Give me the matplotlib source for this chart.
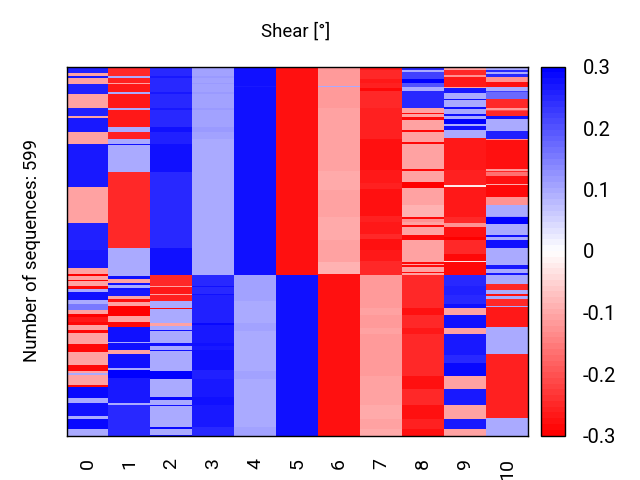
import numpy as np
import matplotlib
matplotlib.use('Agg')
import matplotlib.pyplot as plt

plt.rcParams['font.family'] = ['Roboto', 'DejaVu Sans']

N_ROWS = 599
LR, LB = -0.11, 0.10  # pale red / pale blue levels

c0_v = [.26,LR,.27,LR,.26,LR,.26,LR,.27,LR,.27,LR,.26,
        .27,LR,-.3,LR,-.3,LR,-.29,LB,.28,LB,.15,LR,-.3,-.27,-.29,LR,-.29,LR,-.29,LR,-.29,LR,LB,LR,-.29,.29,LB,.28,LB,.29,LB]
c0_n = [10,5,3,10,16,23,13,3,24,19,70,58,44,
        29,10,3,6,3,7,5,5,13,6,10,6,5,8,5,8,5,19,13,21,10,3,3,16,3,18,8,21,6,16,7]
c1_v = [-.25,LB,-.26,LR,-.27,LB,-.27,LB,-.27,LB,-.26,LB,.28,LB,-.25,LB,
        LB,.28,LR,.28,LB,.28,.27,LR,-.28,LR,-.3,LR,-.29,.28,LB,.28,LR,.28,LB,.3,.27,LB,.25]
c1_n = [15,3,8,2,13,3,24,3,28,8,10,8,2,45,122,5,
        41,5,6,3,5,3,10,5,6,6,16,10,8,24,2,11,6,24,2,13,42,3,48]
c2_v = [.25,.27,.25,.27,.25,.27,.25,.28,.26,.28,.25,.28,
        .28,-.25,LR,-.27,LR,-.26,LB,-.29,LB,LR,LB,.28,LB,.28,LB,.28,LB,.3,LB,.29,LB,.28,LB,.29,LB,.28]
c2_n = [15,3,23,3,24,3,28,8,19,46,122,5,
        39,18,2,11,2,10,11,2,23,5,6,2,19,5,6,2,32,13,29,5,8,2,34,3,10,1]
c3_v = [.11,.12,.11,.12,.11,.12,.105,.12,.105,.115,.11,.1,.1,
        .1,.25,.28,.25,.28,.26,.26,.29,.27,.28,.27,.28,.26,.27,.28,.27,.25]
c3_n = [15,3,8,2,13,3,24,3,28,8,10,8,174,
        39,18,2,11,2,10,36,3,29,5,6,32,15,29,13,36,14]
c4_v = [.281,.27,.281,.105,.095,.105,.095,.105,.095,.1,.095,.105]
c4_n = [32,2,304,42,36,13,65,13,29,13,36,14]
c5_v = [-.28,.281]
c5_n = [338,261]
c6_v = [-.115,LB,-.115,-.105,-.105,-.1,-.095,-.105,-.1,-.095,-.105,-.105,-.09,-.28]
c6_n = [32,2,34,20,81,22,9,44,29,8,18,19,19,262]
c7_v = [-.27,-.25,-.27,-.26,-.29,-.25,-.26,-.28,-.28,-.27,-.26,-.28,-.26,-.27,-.25,-.28,-.27,-.25,
        -.12,-.105,-.115,-.105,-.12,-.105,-.11,-.1,-.11,-.095]
c7_n = [6,15,6,8,5,28,50,6,44,21,10,44,10,19,8,18,18,22,
        54,11,21,10,68,21,26,23,16,11]
c8_v = [.25,LB,.22,.3,.2,LB,.25,LR,-.11,-.29,LR,-.29,LR,-.29,LR,LR,-.29,LR,-.29,LR,-.3,LR,-.09,-.29,-.13,LR,-.29,LR,-.29,LR,
        LR,-.29,LR,-.29,LR,-.29,LR,
        -.25,-.28,-.25,-.27,-.25,-.28,-.25,-.28,-.26,-.28]
c8_n = [6,3,11,6,7,6,28,3,5,2,5,5,16,3,11,6,2,42,3,18,10,27,19,3,6,5,2,13,8,18,
        18,3,2,3,8,2,3,
        54,11,21,10,68,21,26,23,16,11]
c9_v = [LR,-.25,-.13,-.27,LR,.27,LB,.28,LB,.28,LB,.28,LB,.3,LB,.28,LB,-.27,-.26,-.02,-.27,-.25,-.13,-.28,-.3,-.25,
        -.25,-.29,-.03,-.29,
        .25,.26,.25,.28,LR,.28,LR,.27,.25,.29,LR,.27,LR,.27,LR]
c9_n = [6,8,3,16,2,8,10,2,11,3,8,3,6,8,3,6,13,52,24,3,49,10,6,16,5,18,
        6,10,3,20,
        18,15,15,6,11,21,10,34,13,21,21,26,23,16,11]
c10_v = [LB,.25,LB,.25,-.13,-.28,LB,.22,.17,-.25,-.12,-.2,-.25,.28,LB,LB,.26,-.13,-.28,-.12,-.25,-.16,-.28,-.1,-.29,-.13,LB,.12,.3,LB,.28,LB,.28,LB,
         LB,.27,LB,.27,
         LB,-.25,LB,-.28,LB,-.25,LB,-.27,LB,-.26,-.26,LB]
c10_n = [6,3,3,5,8,8,6,3,10,15,3,3,8,5,10,8,13,3,46,3,3,6,13,2,19,13,18,2,10,18,3,5,13,5,
         24,6,6,3,
         15,10,6,3,5,11,3,32,44,52,52,28]

values = [c0_v,c1_v,c2_v,c3_v,c4_v,c5_v,c6_v,c7_v,c8_v,c9_v,c10_v]
counts = [c0_n,c1_n,c2_n,c3_n,c4_n,c5_n,c6_n,c7_n,c8_n,c9_n,c10_n]
x_labels = [str(i) for i in range(11)]
cbar_ticks = [-0.3,-0.2,-0.1,0,0.1,0.2,0.3]

def column(v, n):
    c = np.repeat(v, n)
    if len(c) < N_ROWS:
        c = np.concatenate([c, np.full(N_ROWS-len(c), c[-1])])
    return c[:N_ROWS]

M = np.column_stack([column(v,n) for v,n in zip(values,counts)])

fig = plt.figure(figsize=(6.4,4.8), dpi=100)
ax = fig.add_axes([66.5/640, 1-435.5/480, (528-66.5)/640, (435.5-66.5)/480])
cmap = plt.get_cmap('bwr_r', 64)
mesh = ax.pcolormesh(np.arange(12), np.arange(N_ROWS+1), M, cmap=cmap, vmin=-0.3, vmax=0.3)
ax.invert_yaxis()
ax.set_yticks([])
ax.set_xticks(np.arange(11)+0.5)
ax.set_xticklabels(x_labels, rotation=90, fontsize=14)
ax.tick_params(axis='x', length=0, pad=16)
for s in ax.spines.values():
    s.set_linewidth(1.0)
fig.text(32/640, 1-251/480, 'Number of sequences: 599', rotation=90, ha='center', va='center', fontsize=13.4)
fig.text(295.5/640, 1-32/480, 'Shear [°]', ha='center', va='center', fontsize=13.4)
cax = fig.add_axes([540.5/640, 1-435.5/480, 24/640, (435.5-66.5)/480])
cb = fig.colorbar(mesh, cax=cax)
cb.set_ticks(cbar_ticks)
cb.set_ticklabels(['-0.3','-0.2','-0.1','0','0.1','0.2','0.3'])
cb.ax.tick_params(labelsize=14.5, length=0, pad=13)
cb.outline.set_linewidth(1.0)
fig.savefig('out.png', dpi=100)
